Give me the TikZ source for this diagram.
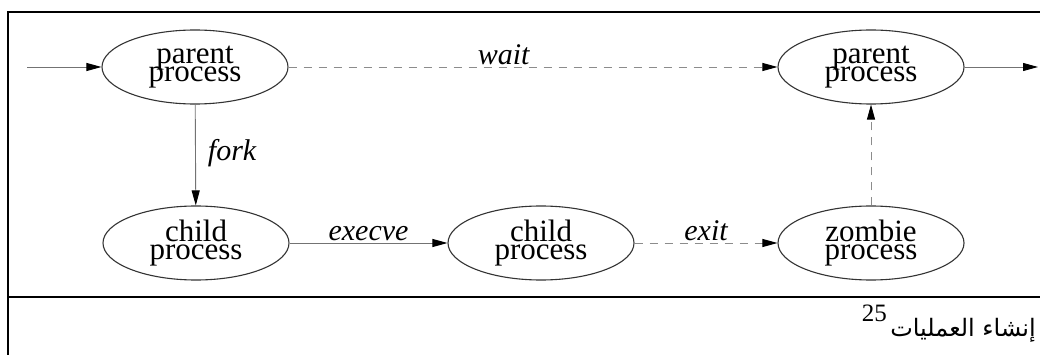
\documentclass[tikz,border=0pt]{standalone}
\usepackage{fontspec}
\setmainfont{Liberation Serif}
\newfontfamily\arabicfont[Script=Arabic]{DejaVu Sans}
\TeXXeTstate=1
\usetikzlibrary{shapes.geometric,arrows.meta}

\begin{document}
\begin{tikzpicture}[x=1pt, y=-1pt, auto,
                        proc/.style={ellipse, draw=black!80, line width=1.1pt, inner sep=0pt,
                                     minimum width=186pt, minimum height=74pt, align=center,
                                     font={\fontsize{31}{18}\selectfont\lineskiplimit=-40pt}},
                        lbl/.style={draw=none, text=black, inner sep=2pt, font={\fontsize{30}{30}\selectfont\itshape}},
                        every edge/.style={draw, line width=0.9pt, black!55,
                                           -{Triangle[length=15pt,width=8pt,black]}},
                        dashline/.style={dash pattern=on 8pt off 7pt, black!45}]
                        \useasboundingbox (0,0) rectangle (1040,355);

                        % Frame of the table
                        \draw[line width=2.4pt] (1040,12) -- (8,12) -- (8,355);
                        \draw[line width=2.4pt] (8,297) -- (1040,297);

                        % Define nodes
                        \node[proc] (P1) at (195,67) {parent\\process}; % Parent before fork
                        \node[proc] (P2) at (871,67) {parent\\process}; % Parent after wait
                        \node[proc] (C1) at (196,243) {child\\process}; % Child after fork
                        \node[proc] (C2) at (541,243) {child\\process}; % Child after execve
                        \node[proc] (Z) at (871,243) {zombie\\process}; % Child after exit
                        \coordinate (In) at (27,67);
                        \coordinate (Out) at (1038,67);

                        % Define edges
                        \path (In) edge (P1);
                        \path (P2) edge (Out);
                        \path (P1) edge[dashline] node[lbl, pos=0.44] {wait} (P2);
                        \path (P1) edge node[lbl, pos=0.48, inner sep=12pt] {fork} (C1);
                        \path (C1) edge node[lbl] {execve} (C2);
                        \path (C2) edge[dashline] node[lbl] {exit} (Z);
                        \path (Z) edge[dashline] (P2);

                        % Caption
                        \node[anchor=base east, inner sep=0pt, font=\fontsize{24}{28}\selectfont] (Cap) at (1036,336)
                            {\arabicfont\beginR إنشاء العمليات\endR};
                        \node[anchor=south east, inner sep=0pt, font=\fontsize{25}{28}\selectfont] (Num) at ([xshift=-3pt,yshift=-4pt]Cap.north west) {25};
                        \end{tikzpicture}
\end{document}
